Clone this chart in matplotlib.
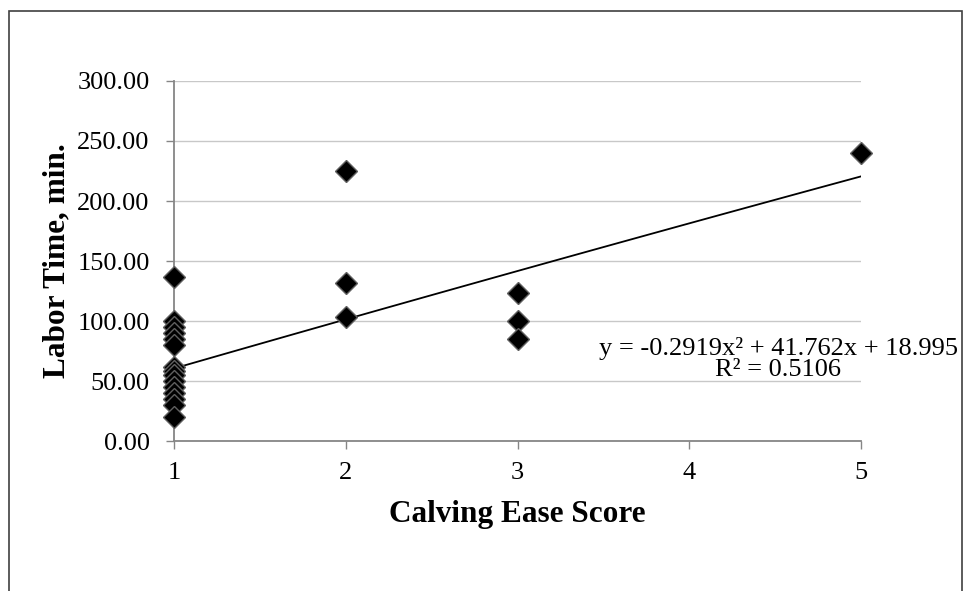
import numpy as np
import matplotlib.pyplot as plt
from matplotlib.patches import Rectangle

# calving ease score vs labor time (minutes)
ease_score = [1, 1, 1, 1, 1, 1, 1, 1, 1, 1, 1, 1, 1, 1, 1,
              2, 2, 2,
              3, 3, 3,
              5]
labor_time = [137, 100, 95, 90, 85, 80, 62, 58, 55, 50, 45, 40, 35, 30, 20,
              225, 132, 103,
              123, 100, 85,
              240]

# polynomial trendline reported on the chart
trend_coef = [-0.2919, 41.762, 18.995]
trend_r2 = 0.5106

y_ticks = [0, 50, 100, 150, 200, 250, 300]
x_ticks = [1, 2, 3, 4, 5]

plt.rcParams['font.family'] = ['Liberation Serif', 'DejaVu Serif']

fig = plt.figure(figsize=(9.63, 5.91), dpi=100)
ax = fig.add_axes([174 / 963, 1 - 441 / 591, 687 / 963, 360 / 591])

# outer chart border
fig.patches.append(Rectangle((9 / 963, -0.1), 953 / 963, 1.1 - 11 / 591,
                             transform=fig.transFigure, fill=False,
                             edgecolor='#404040', linewidth=1.2))

ax.set_xlim(1, 5)
ax.set_ylim(0, 300)
ax.set_yticks(y_ticks)
ax.set_yticklabels(['%.2f' % v for v in y_ticks])
ax.set_xticks(x_ticks)
ax.set_xticklabels([str(v) for v in x_ticks])

ax.grid(axis='y', color='#c8c8c8', linewidth=1)
ax.set_axisbelow(True)
for side in ['top', 'right']:
    ax.spines[side].set_visible(False)
for side in ['left', 'bottom']:
    ax.spines[side].set_color('#868686')
    ax.spines[side].set_linewidth(1.3)
ax.tick_params(axis='both', colors='#868686', length=6, width=1, labelsize=19,
               labelcolor='black')
ax.tick_params(axis='x', pad=9)
ax.tick_params(axis='y', pad=11.5)

# trendline
xs = np.linspace(1, 5, 100)
ax.plot(xs, np.polyval(trend_coef, xs), color='black', linewidth=1.3, zorder=3)

ax.plot(ease_score, labor_time, linestyle='none', marker='D', markersize=11.5,
        markerfacecolor='black', markeredgecolor='#606060', markeredgewidth=1,
        clip_on=False, zorder=4)

eq = 'y = %.4fx² + %.3fx + %.3f\nR² = %.4f' % (trend_coef[0], trend_coef[1],
                                              trend_coef[2], trend_r2)
fig.text(778 / 963, 1 - 359 / 591, eq, ha='center', va='center', fontsize=19,
         linespacing=1.0)

ax.set_xlabel('Calving Ease Score', fontsize=22.5, fontweight='bold')
ax.set_ylabel('Labor Time, min.', fontsize=22.5, fontweight='bold')
ax.xaxis.set_label_coords(0.5, -0.165)
ax.yaxis.set_label_coords(-0.149, 0.5)

fig.savefig('out.png', dpi=100)
